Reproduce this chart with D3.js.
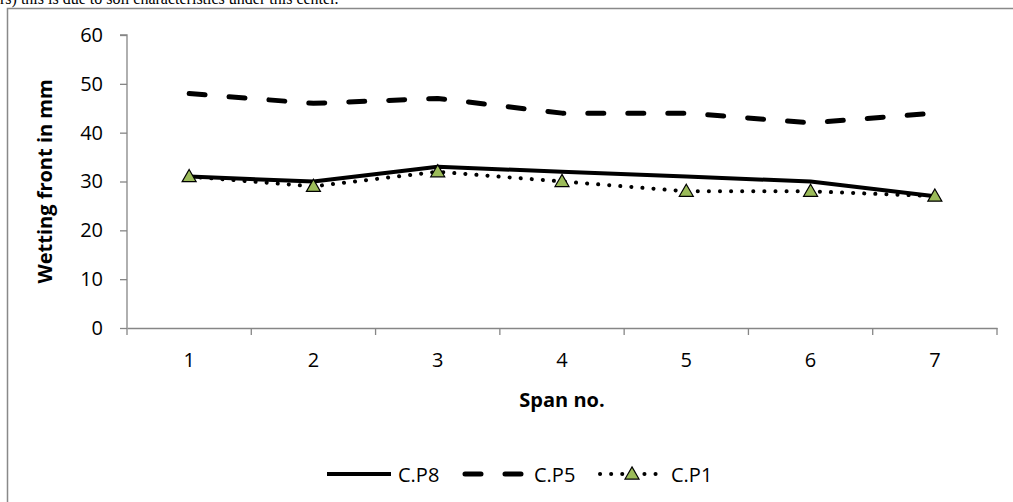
<!DOCTYPE html>
<html>
<head>
<meta charset="utf-8">
<script src="https://cdn.jsdelivr.net/npm/d3@7"></script>
<style>
  body { margin: 0; background: #fff; }
  svg { display: block; }
  text { font-family: "Open Sans", "Noto Sans", sans-serif; }
</style>
</head>
<body>
<svg id="chart" width="1013" height="502"></svg>
<script>
const spans = ['1', '2', '3', '4', '5', '6', '7'];
const cp8 = [31, 30, 33, 32, 31, 30, 27];
const cp5 = [48, 46, 47, 44, 44, 42, 44];
const cp1 = [31, 29, 32, 30, 28, 28, 27];
const yTicks = [0, 10, 20, 30, 40, 50, 60];

const svg = d3.select('#chart');
const axisColor = '#868686';
const fontSize = '20px';
const plotLeft = 127, plotRight = 997, plotTop = 35, plotBottom = 328;

// cut-off caption line from the page above the chart
svg.append('text')
  .attr('x', 0).attr('y', 4)
  .style('font-family', '"Liberation Serif", serif')
  .style('font-size', '16px')
  .text('rs) this is due to soil characteristics under this center.');

// chart frame
svg.append('rect')
  .attr('x', 7.5).attr('y', 8.5)
  .attr('width', 1020).attr('height', 510)
  .style('fill', 'none')
  .style('stroke', '#898989')
  .style('stroke-width', 1.5);

const x = d3.scaleBand().domain(spans).range([plotLeft, plotRight]);
const y = d3.scaleLinear().domain([0, 60]).range([plotBottom, plotTop]);

const xAxis = svg.append('g')
  .attr('transform', `translate(0,${plotBottom})`)
  .call(d3.axisBottom(x).tickSize(0).tickPadding(25));
xAxis.select('.domain').style('stroke', axisColor).style('stroke-width', 1.3);
xAxis.selectAll('text').style('font-size', fontSize).style('fill', '#000');

// category boundary ticks
svg.append('g').selectAll('line')
  .data(d3.range(spans.length + 1))
  .enter().append('line')
  .attr('x1', i => plotLeft + i * x.step())
  .attr('x2', i => plotLeft + i * x.step())
  .attr('y1', plotBottom).attr('y2', plotBottom + 7)
  .style('stroke', axisColor).style('stroke-width', 1.3);

const yAxis = svg.append('g')
  .attr('transform', `translate(${plotLeft},0)`)
  .call(d3.axisLeft(y).tickValues(yTicks).tickSize(7).tickPadding(17));
yAxis.select('.domain').style('stroke', axisColor).style('stroke-width', 1.3)
  .attr('d', `M-7,${plotTop}H0V${plotBottom}`);
yAxis.selectAll('.tick line').style('stroke', axisColor).style('stroke-width', 1.3);
yAxis.selectAll('text').style('font-size', fontSize).style('fill', '#000');

svg.append('text')
  .attr('transform', `translate(52,${(plotTop + plotBottom) / 2}) rotate(-90)`)
  .attr('text-anchor', 'middle')
  .style('font-size', fontSize).style('font-weight', 'bold')
  .text('Wetting front in mm');

svg.append('text')
  .attr('x', (plotLeft + plotRight) / 2).attr('y', 407)
  .attr('text-anchor', 'middle')
  .style('font-size', fontSize).style('font-weight', 'bold')
  .text('Span no.');

const line = d3.line()
  .x((d, i) => x(spans[i]) + x.bandwidth() / 2)
  .y(d => y(d));

const series = [
  { name: 'C.P8', values: cp8, width: 4, dash: null, cap: 'butt' },
  { name: 'C.P5', values: cp5, width: 5, dash: '16 24', cap: 'round' },
  { name: 'C.P1', values: cp1, width: 4, dash: '0.1 11', cap: 'round' }
];

series.forEach(s => {
  svg.append('path')
    .attr('d', line(s.values))
    .style('fill', 'none')
    .style('stroke', '#000')
    .style('stroke-width', s.width)
    .style('stroke-linecap', s.cap)
    .style('stroke-linejoin', 'round')
    .style('stroke-dasharray', s.dash);
});

const tri = d3.symbol().type(d3.symbolTriangle).size(85);
svg.append('g').selectAll('path')
  .data(cp1)
  .enter().append('path')
  .attr('d', tri)
  .attr('transform', (d, i) => `translate(${x(spans[i]) + x.bandwidth() / 2},${y(d) + 1})`)
  .style('fill', '#9BBB59')
  .style('stroke', '#000')
  .style('stroke-width', 1.2);

// legend
const legendY = 474;
const legendX = [327, 463, 600];
series.forEach((s, i) => {
  const g = svg.append('g').attr('transform', `translate(${legendX[i]},${legendY})`);
  g.append('line')
    .attr('x1', i === 1 ? 2 : 0).attr('x2', i === 1 ? 60 : 64)
    .attr('y1', 0).attr('y2', 0)
    .style('stroke', '#000')
    .style('stroke-width', s.width)
    .style('stroke-linecap', s.cap)
    .style('stroke-dasharray', s.dash);
  if (i === 2) {
    g.append('path').attr('d', tri)
      .attr('transform', 'translate(32,1)')
      .style('fill', '#9BBB59').style('stroke', '#000').style('stroke-width', 1.2);
  }
  g.append('text')
    .attr('x', 71)
    .attr('y', 8)
    .style('font-size', fontSize)
    .text(s.name);
});
</script>
</body>
</html>
